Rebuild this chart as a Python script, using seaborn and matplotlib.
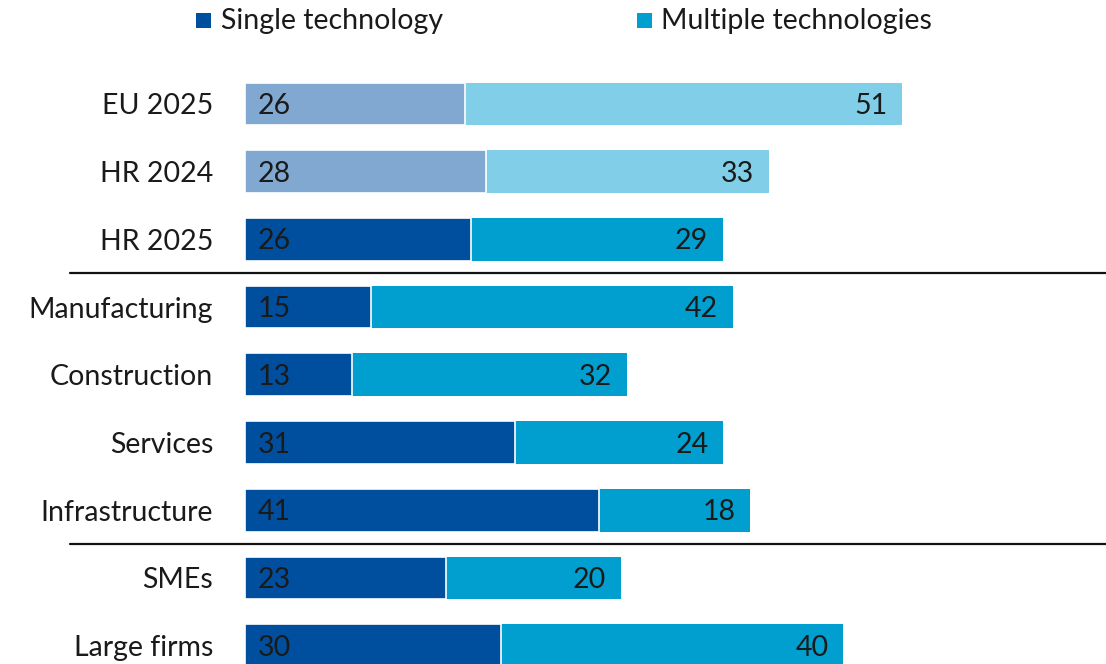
import matplotlib
matplotlib.use("Agg")
import matplotlib.pyplot as plt
import matplotlib.transforms as mtransforms
from matplotlib.patches import Rectangle
import seaborn as sns
import pandas as pd

categories = ["EU 2025", "HR 2024", "HR 2025", "Manufacturing", "Construction",
              "Services", "Infrastructure", "SMEs", "Large firms"]
# values (labels show the rounded figures)
single = [25.7, 28.2, 26.4, 14.7, 12.5, 31.5, 41.4, 23.5, 29.9]
multiple = [51.1, 33.0, 29.4, 42.3, 32.1, 24.4, 17.6, 20.4, 40.0]
single_labels = ["26", "28", "26", "15", "13", "31", "41", "23", "30"]
multiple_labels = ["51", "33", "29", "42", "32", "24", "18", "20", "40"]
series_names = ["Single technology", "Multiple technologies"]

dark = "#004F9F"
light = "#009FD0"
dark_faded = "#80A8D0"
light_faded = "#80CEE8"
single_colors = [dark_faded, dark_faded] + [dark] * 7
multi_colors = [light_faded, light_faded] + [light] * 7

df = pd.DataFrame({"cat": categories, "single": single, "multiple": multiple})
df["total"] = df["single"] + df["multiple"]

sns.set_theme(style="white")
plt.rcParams["font.family"] = ["Lato", "DejaVu Sans"]
FS = 20.5
TXT = "#1a1a1a"

W, H = 1106, 664
fig = plt.figure(figsize=(W / 100, H / 100), dpi=100)
ax = fig.add_axes([245 / W, 0, 1 - 245 / W, (664 - 70) / H])

sns.barplot(data=df, x="total", y="cat", hue="cat", palette=multi_colors,
            legend=False, width=0.63, ax=ax, saturation=1, edgecolor="none")
sns.barplot(data=df, x="single", y="cat", hue="cat", palette=single_colors,
            legend=False, width=0.63, ax=ax, saturation=1,
            edgecolor="white", linewidth=1.2)

ax.set_xlim(0, 100.6)
ax.set_ylim(8.27, -0.5)
for s in ax.spines.values():
    s.set_visible(False)
ax.set_xticks([])
ax.set_xlabel("")
ax.set_ylabel("")
ax.tick_params(axis="y", length=0, pad=23, labelsize=FS, labelcolor=TXT)

for i, (s, m) in enumerate(zip(single, multiple)):
    ax.text(1.5, i + 0.03, single_labels[i], va="center", ha="left", fontsize=FS, color=TXT)
    ax.text(s + m - 1.7, i + 0.03, multiple_labels[i], va="center", ha="right",
            fontsize=FS, color=TXT)

trans = mtransforms.blended_transform_factory(fig.transFigure, ax.transData)
for yv in [2.5, 6.5]:
    ax.plot([70 / W, 1.0], [yv, yv], transform=trans, color="#111111",
            lw=1.6, clip_on=False)

# legend
for (sq_x, txt_x), col, name in zip([(196, 221), (637, 661)], [dark, light], series_names):
    fig.patches.append(Rectangle((sq_x / W, 1 - 28 / H), 15 / W, 15 / H,
                                 transform=fig.transFigure, facecolor=col,
                                 edgecolor="none"))
    fig.text(txt_x / W, 1 - 21 / H, name, va="center", ha="left",
             fontsize=FS, color=TXT)

fig.savefig("out.png", dpi=100)
